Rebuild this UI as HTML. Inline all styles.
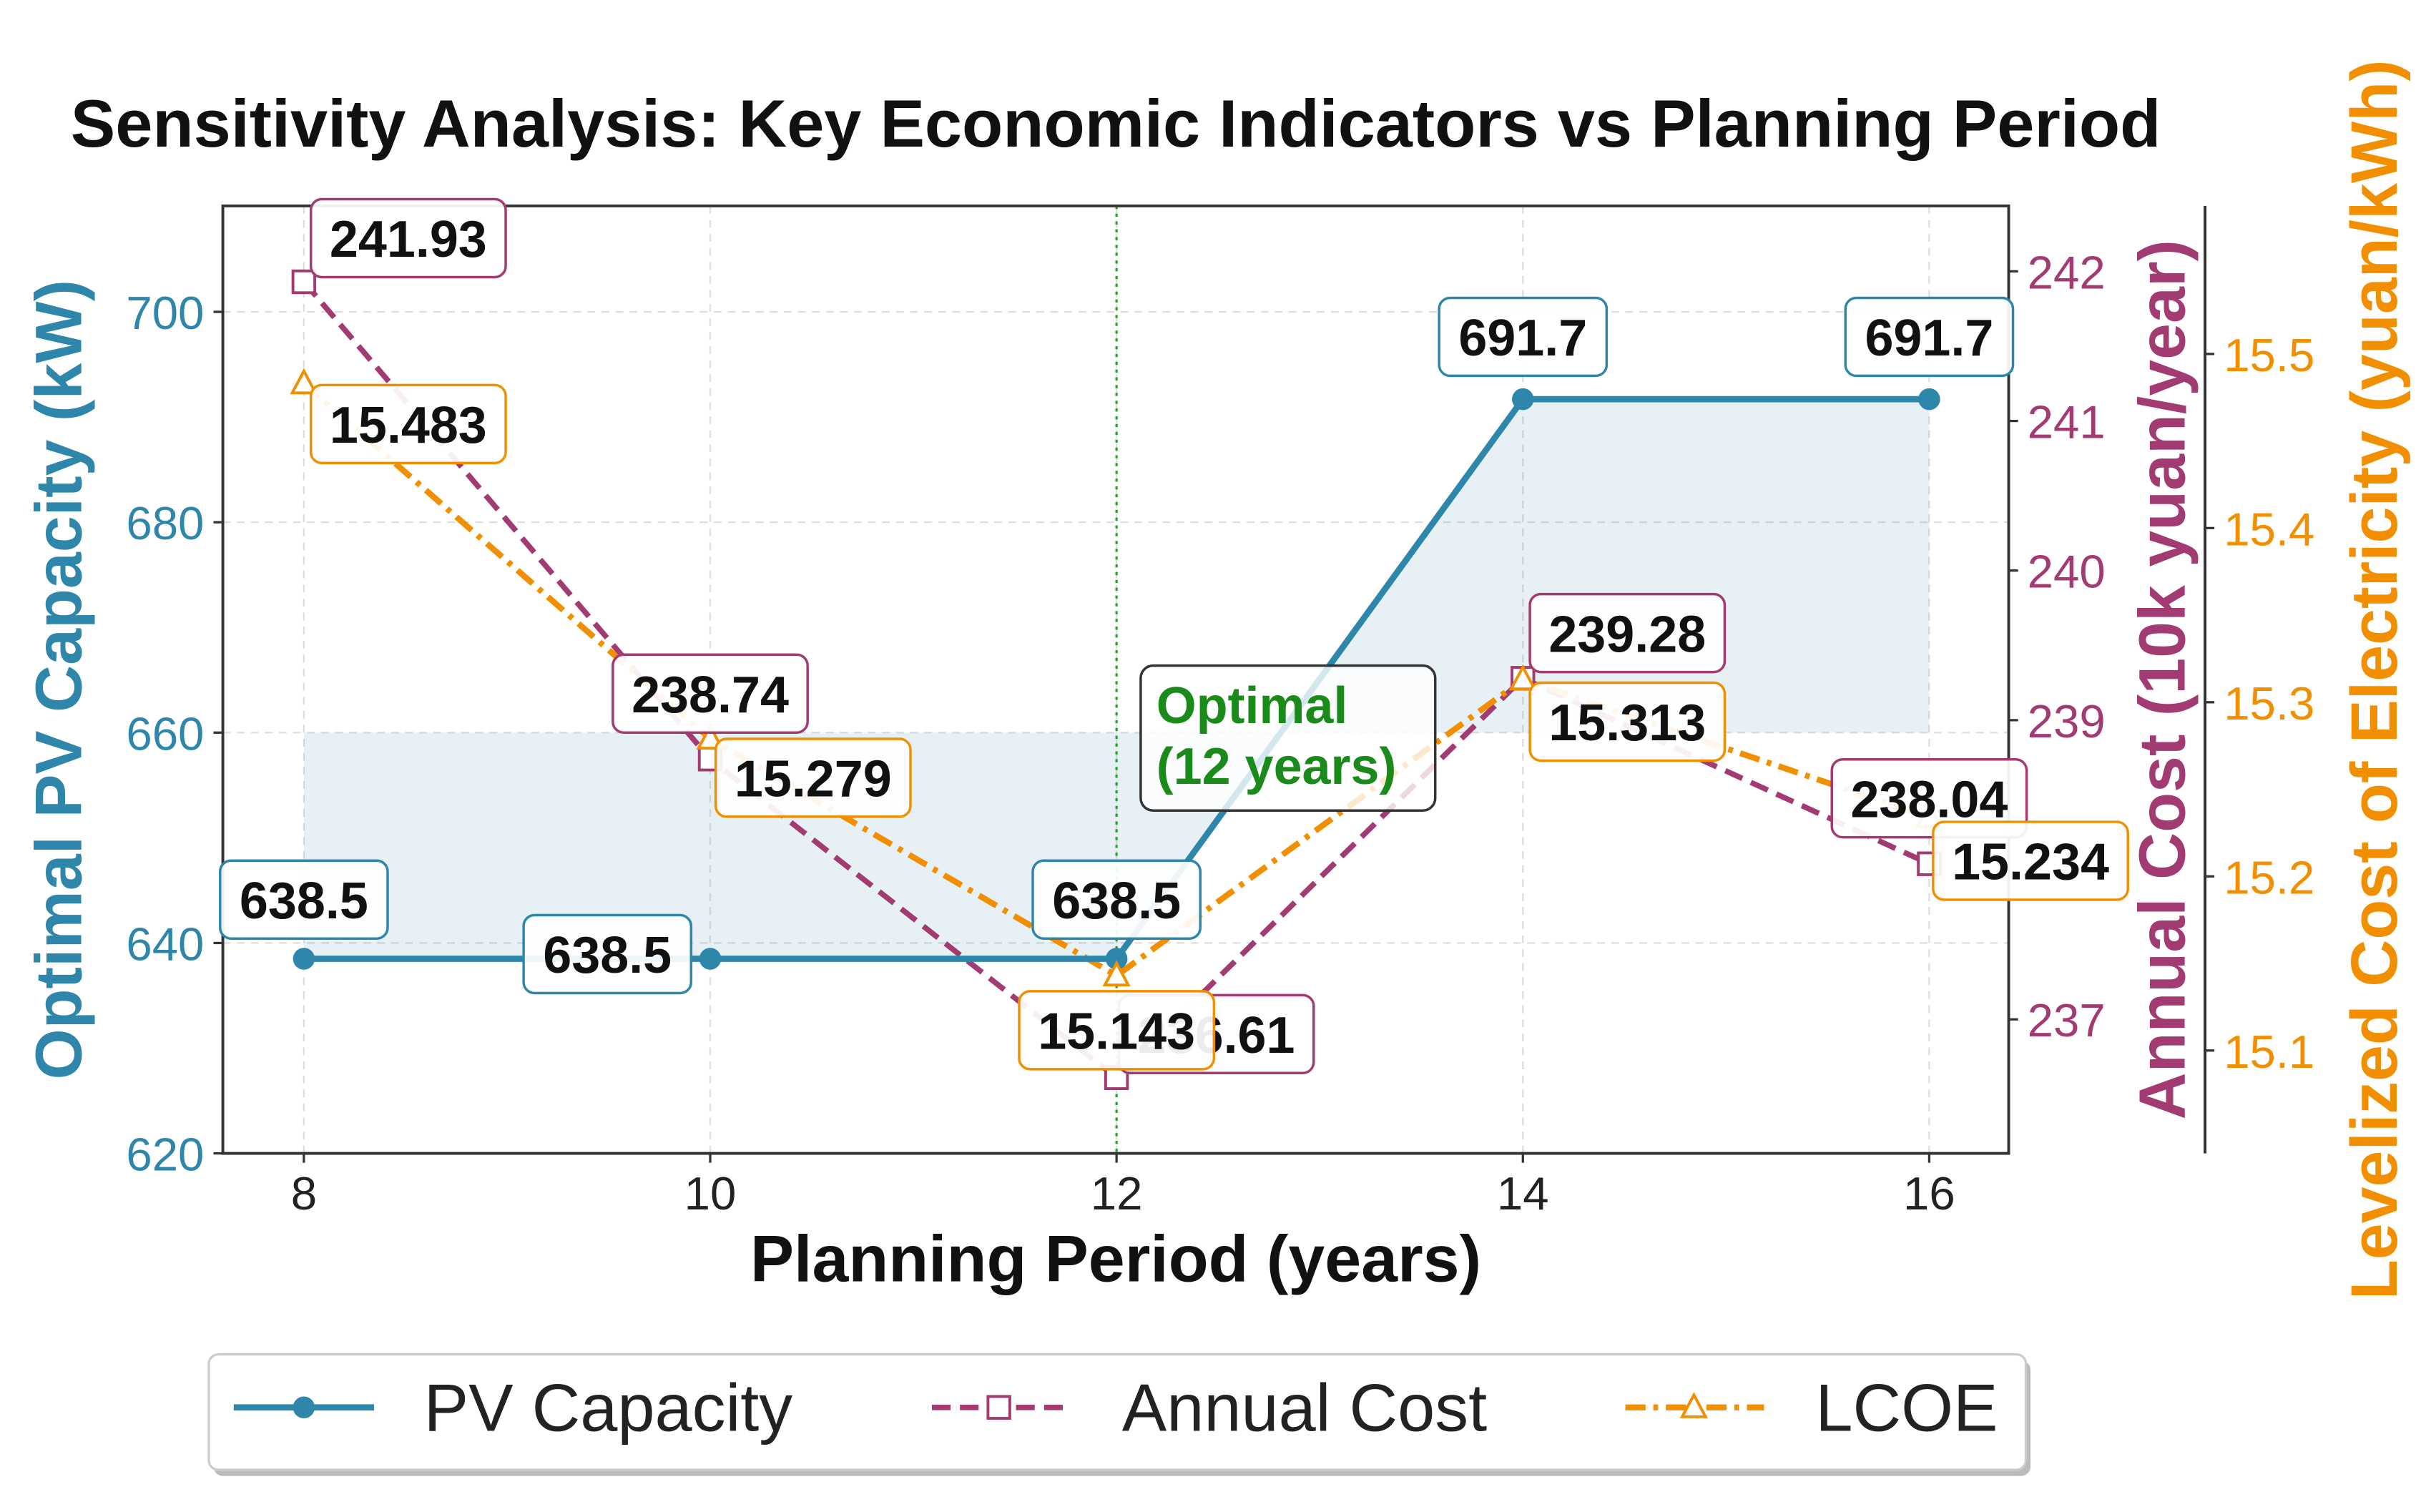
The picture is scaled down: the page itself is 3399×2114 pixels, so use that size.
<!DOCTYPE html>
<html><head><meta charset="utf-8"><style>
html,body{margin:0;padding:0;background:#fff;}
svg{display:block;font-family:"Liberation Sans",Arial,sans-serif;}
</style></head><body>
<svg id="chart" width="3399" height="2114" viewBox="0 0 1560 970" xmlns="http://www.w3.org/2000/svg">
<rect width="1560" height="970" fill="#fff"/>
<g id="grid"></g>
<g id="fill"></g>
<g id="axes"></g>
<g id="series"></g>
<g id="labels"></g>
</svg>
<script>
const years = [8, 10, 12, 14, 16];
const pvCapacity = [638.5, 638.5, 638.5, 691.7, 691.7];
const annualCost = [241.93, 238.74, 236.61, 239.28, 238.04];
const lcoe = [15.483, 15.279, 15.143, 15.313, 15.234];
const xTicks = [8, 10, 12, 14, 16];
const pvTicks = [620, 640, 660, 680, 700];
const costTicks = [237, 239, 240, 241, 242];
const lcoeTicks = [15.1, 15.2, 15.3, 15.4, 15.5];
const pvLabelText = ["638.5", "638.5", "638.5", "691.7", "691.7"];
const costLabelText = ["241.93", "238.74", "236.61", "239.28", "238.04"];
const lcoeLabelText = ["15.483", "15.279", "15.143", "15.313", "15.234"];
const optimalYear = 12;
const fillBase = 660;

const NS = "http://www.w3.org/2000/svg";
const PV = "#2E86AB", AC = "#A23B72", LC = "#F18F01";
const L = 143, R = 1289, T = 132, B = 740;
const sx = v => 195 + (v - 8) * (1238 - 195) / 8;
const syPV = v => 740 - (v - 620) * 6.75;
const syAC = v => 174 + (242 - v) * 96;
const syLC = v => 227 + (15.5 - v) * 1117.5;

function el(tag, attrs, parent, text) {
  const e = document.createElementNS(NS, tag);
  for (const k in attrs) e.setAttribute(k, attrs[k]);
  if (text !== undefined) e.textContent = text;
  parent.appendChild(e);
  return e;
}
const svg = document.getElementById("chart");
const grid = document.getElementById("grid");
const fillG = document.getElementById("fill");
const axes = document.getElementById("axes");
const series = document.getElementById("series");
const labels = document.getElementById("labels");

let t = el("text", {x: 716, y: 94, "text-anchor": "middle", "font-size": 43, "font-weight": "bold", fill: "#111"}, svg, "Sensitivity Analysis: Key Economic Indicators vs Planning Period");



xTicks.forEach(v => {
  const g = el("line", {x1: sx(v), x2: sx(v), y1: T, y2: B, stroke: "#ddd", "stroke-width": 1, "stroke-dasharray": "5 4"}, grid);
  
  
});
pvTicks.forEach(v => {
  const g = el("line", {x1: L, x2: R, y1: syPV(v), y2: syPV(v), stroke: "#ddd", "stroke-width": 1, "stroke-dasharray": "5 4"}, grid);
  
  
});

{
  let d = "M" + sx(years[0]) + "," + syPV(fillBase);
  years.forEach((y, i) => { d += " L" + sx(y) + "," + syPV(pvCapacity[i]); });
  d += " L" + sx(years[years.length - 1]) + "," + syPV(fillBase) + " Z";
  const f = el("path", {d: d, fill: PV, "fill-opacity": 0.12}, fillG);
  
  
}

{
  const o = el("line", {x1: sx(optimalYear), x2: sx(optimalYear), y1: T, y2: B, stroke: "#2ca02c", "stroke-width": 1.5, "stroke-dasharray": "2 3"}, axes);
  
  
}

{
  const fr = el("rect", {x: L, y: T, width: R - L, height: B - T, fill: "none", stroke: "#333", "stroke-width": 1.8}, axes);
  
  
  const sp = el("line", {x1: 1415, x2: 1415, y1: T, y2: B, stroke: "#333", "stroke-width": 1.8}, axes);
  
  
}
xTicks.forEach(v => {
  el("line", {x1: sx(v), x2: sx(v), y1: B, y2: B + 6, stroke: "#333", "stroke-width": 1.5}, axes);
  const tx = el("text", {x: sx(v), y: B + 36, "text-anchor": "middle", "font-size": 30, fill: "#222"}, axes, String(v));
  
  
});
pvTicks.forEach(v => {
  el("line", {x1: L - 6, x2: L, y1: syPV(v), y2: syPV(v), stroke: "#333", "stroke-width": 1.5}, axes);
  const tx = el("text", {x: L - 12, y: syPV(v) + 11, "text-anchor": "end", "font-size": 30, fill: PV}, axes, String(v));
  
  
});
costTicks.forEach(v => {
  el("line", {x1: R, x2: R + 6, y1: syAC(v), y2: syAC(v), stroke: "#333", "stroke-width": 1.5}, axes);
  const tx = el("text", {x: R + 12, y: syAC(v) + 11, "font-size": 30, fill: AC}, axes, String(v));
  
  
});
lcoeTicks.forEach(v => {
  el("line", {x1: 1415, x2: 1421, y1: syLC(v), y2: syLC(v), stroke: "#333", "stroke-width": 1.5}, axes);
  const tx = el("text", {x: 1427, y: syLC(v) + 11, "font-size": 30, fill: LC}, axes, v.toFixed(1));
  
  
});
{
  let a = el("text", {x: 716, y: 822, "text-anchor": "middle", "font-size": 42, "font-weight": "bold", fill: "#111"}, axes, "Planning Period (years)");
   
  a = el("text", {transform: "translate(52,436) rotate(-90)", "text-anchor": "middle", "font-size": 42, "font-weight": "bold", fill: PV}, axes, "Optimal PV Capacity (kW)");
   
  a = el("text", {transform: "translate(1402,436) rotate(-90)", "text-anchor": "middle", "font-size": 42, "font-weight": "bold", fill: AC}, axes, "Annual Cost (10k yuan/year)");
   
  a = el("text", {transform: "translate(1538,436) rotate(-90)", "text-anchor": "middle", "font-size": 42, "font-weight": "bold", fill: LC}, axes, "Levelized Cost of Electricity (yuan/kWh)");
   
}

function pts(vals, fy) { return years.map((y, i) => sx(y) + "," + fy(vals[i])).join(" "); }
{
  let p = el("polyline", {points: pts(annualCost, syAC), fill: "none", stroke: AC, "stroke-width": 3.5, "stroke-dasharray": "12 6"}, series);
   
  p = el("polyline", {points: pts(lcoe, syLC), fill: "none", stroke: LC, "stroke-width": 3.8, "stroke-dasharray": "13 5 3 5"}, series);
   
  p = el("polyline", {points: pts(pvCapacity, syPV), fill: "none", stroke: PV, "stroke-width": 4}, series);
   
}
years.forEach((y, i) => {
  let m = el("circle", {cx: sx(y), cy: syPV(pvCapacity[i]), r: 7, fill: PV}, series);
   
  m = el("rect", {x: sx(y) - 7, y: syAC(annualCost[i]) - 7, width: 14, height: 14, fill: "#fff", stroke: AC, "stroke-width": 1.8}, series);
   
  const cx = sx(y), cy = syLC(lcoe[i]);
  m = el("polygon", {points: cx + "," + (cy - 8) + " " + (cx - 7.5) + "," + (cy + 6) + " " + (cx + 7.5) + "," + (cy + 6), fill: "#fff", stroke: LC, "stroke-width": 1.8}, series);
   
});

const pvOff = [[0, -38], [-66, -3], [0, -38], [0, -40], [0, -40]];
const acOff = [[67, -28], [0, -42], [64, -28], [67, -29], [0, -42]];
const lcOff = [[67, 26], [66, 25], [0, 35], [67, 27], [65, 28]];
function box(cx, cy, txt, color, name) {
  const w = txt.length * 17.5 + 20, h = 50;
  const g = el("g", {}, labels);
  
  
  el("rect", {x: cx - w / 2, y: cy - h / 2, width: w, height: h, rx: 7, fill: "#fff", "fill-opacity": 0.92, stroke: color, "stroke-width": 1.6}, g);
  el("text", {x: cx, y: cy + 12, "text-anchor": "middle", "font-size": 33, "font-weight": "bold", fill: "#111"}, g, txt);
}
years.forEach((y, i) => box(sx(y) + pvOff[i][0], syPV(pvCapacity[i]) + pvOff[i][1], pvLabelText[i], PV, "pv-value-label"));
years.forEach((y, i) => box(sx(y) + acOff[i][0], syAC(annualCost[i]) + acOff[i][1], costLabelText[i], AC, "cost-value-label"));
years.forEach((y, i) => box(sx(y) + lcOff[i][0], syLC(lcoe[i]) + lcOff[i][1], lcoeLabelText[i], LC, "lcoe-value-label"));

{
  const g = el("g", {}, labels);
  
  
  el("rect", {x: 732, y: 427, width: 189, height: 93, rx: 8, fill: "#fff", "fill-opacity": 0.8, stroke: "#333", "stroke-width": 1.6}, g);
  el("text", {x: 742, y: 464, "font-size": 33, "font-weight": "bold", fill: "#1a8a1a"}, g, "Optimal");
  el("text", {x: 742, y: 503, "font-size": 33, "font-weight": "bold", fill: "#1a8a1a"}, g, "(" + optimalYear + " years)");
}

{
  const g = el("g", {}, svg);
  
  
  el("rect", {x: 137, y: 873, width: 1166, height: 74, rx: 6, fill: "#bbb"}, g);
  el("rect", {x: 134, y: 869, width: 1166, height: 74, rx: 6, fill: "#fff", stroke: "#ccc", "stroke-width": 1.5}, g);
  let e = el("g", {}, g);  
  el("line", {x1: 150, x2: 240, y1: 903, y2: 903, stroke: PV, "stroke-width": 4}, e);
  el("circle", {cx: 195, cy: 903, r: 7, fill: PV}, e);
  el("text", {x: 272, y: 918, "font-size": 43, fill: "#222"}, e, "PV Capacity");
  e = el("g", {}, g);  
  el("line", {x1: 598, x2: 686, y1: 903, y2: 903, stroke: AC, "stroke-width": 3.5, "stroke-dasharray": "12 6"}, e);
  el("rect", {x: 634, y: 896, width: 14, height: 14, fill: "#fff", stroke: AC, "stroke-width": 1.8}, e);
  el("text", {x: 720, y: 918, "font-size": 43, fill: "#222"}, e, "Annual Cost");
  e = el("g", {}, g);  
  el("line", {x1: 1043, x2: 1132, y1: 903, y2: 903, stroke: LC, "stroke-width": 3.8, "stroke-dasharray": "13 5 3 5"}, e);
  el("polygon", {points: "1087,895 1079.5,909 1094.5,909", fill: "#fff", stroke: LC, "stroke-width": 1.8}, e);
  el("text", {x: 1165, y: 918, "font-size": 43, fill: "#222"}, e, "LCOE");
}
</script>
</body></html>
